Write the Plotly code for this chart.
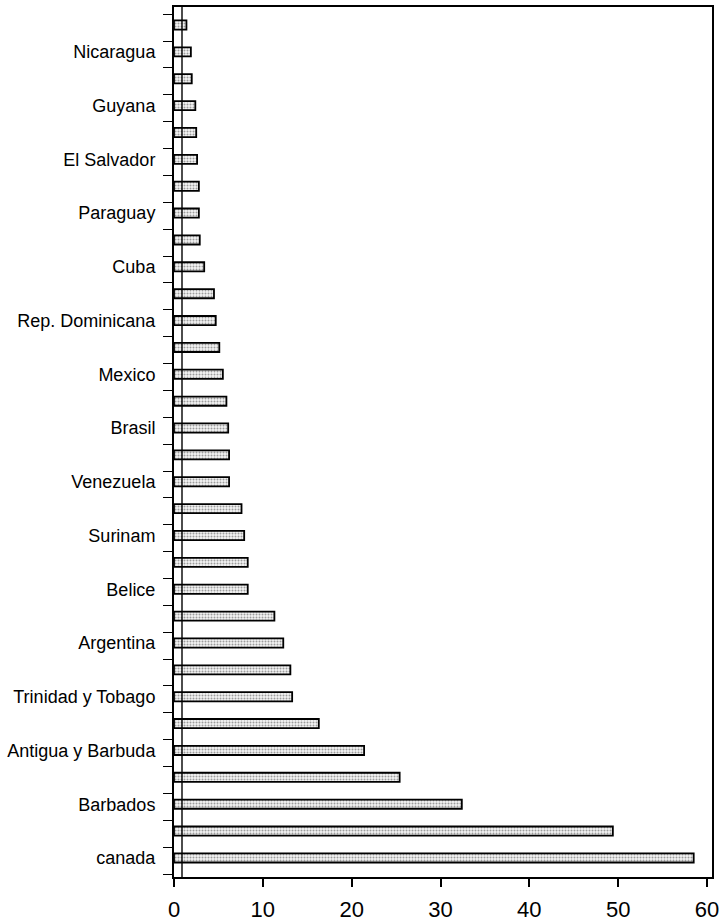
import plotly.graph_objects as go

# Bar slots from top (1) to bottom (32); only every second slot carries a name
positions = list(range(1, 33))
tick_labels = [
    "", "Nicaragua", "", "Guyana", "", "El Salvador", "", "Paraguay",
    "", "Cuba", "", "Rep. Dominicana", "", "Mexico", "", "Brasil",
    "", "Venezuela", "", "Surinam", "", "Belice", "", "Argentina",
    "", "Trinidad y Tobago", "", "Antigua y Barbuda", "", "Barbados", "", "canada",
]
values = [
    1.4, 1.9, 2.0, 2.4, 2.5, 2.6, 2.8, 2.8,
    2.9, 3.4, 4.5, 4.7, 5.1, 5.5, 5.9, 6.1,
    6.2, 6.2, 7.6, 7.9, 8.3, 8.3, 11.3, 12.3,
    13.1, 13.3, 16.3, 21.4, 25.4, 32.4, 49.4, 58.5,
]
x_ticks = [0, 10, 20, 30, 40, 50, 60]

fig = go.Figure(
    go.Bar(
        x=values,
        y=positions,
        orientation="h",
        width=0.34,
        marker=dict(
            color="white",
            line=dict(color="black", width=1.8),
            pattern=dict(shape=".", fgcolor="#444444", bgcolor="#f4f4f4",
                         size=3, solidity=0.35),
        ),
        hoverinfo="x+y",
    )
)

# inner wall of the box frame
fig.add_shape(type="line", xref="x", yref="paper",
              x0=0.9, x1=0.9, y0=0.0, y1=1.0,
              line=dict(color="black", width=1.4))

fig.update_layout(
    width=721,
    height=924,
    margin=dict(l=174, r=9, t=7, b=47),
    paper_bgcolor="white",
    plot_bgcolor="white",
    showlegend=False,
    bargap=0.66,
    font=dict(family="Liberation Sans, Arial, sans-serif", color="black"),
)

fig.update_xaxes(
    range=[0, 60.56],
    tickvals=x_ticks,
    ticktext=[str(v) for v in x_ticks],
    tickfont=dict(size=22, color="black"),
    ticks="outside",
    ticklen=8,
    tickwidth=1.5,
    tickcolor="black",
    ticklabelstandoff=4,
    automargin=False,
    showline=True,
    linecolor="black",
    linewidth=2,
    mirror=True,
    showgrid=False,
    zeroline=False,
)

fig.update_yaxes(
    range=[32.71, 0.33],
    tickvals=positions,
    ticktext=tick_labels,
    tickfont=dict(size=18, color="black"),
    ticks="",
    ticklabelstandoff=13,
    automargin=False,
    minor=dict(tick0=0.6, dtick=1, ticks="outside", ticklen=9,
               tickwidth=1.3, tickcolor="black", showgrid=False),
    showline=True,
    linecolor="black",
    linewidth=2,
    mirror=True,
    showgrid=False,
    zeroline=False,
)

fig.write_html("out.html")
